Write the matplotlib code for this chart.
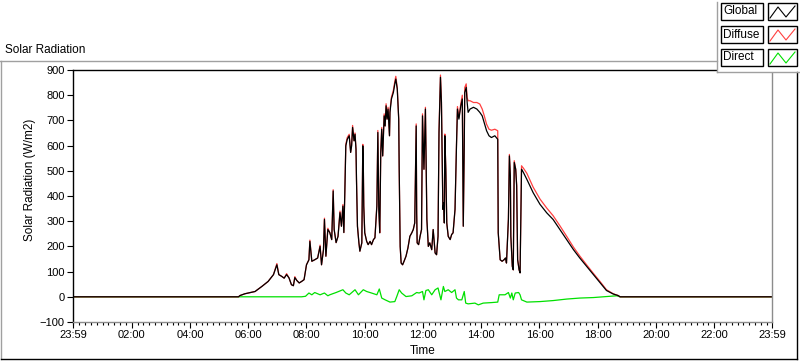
import matplotlib
matplotlib.use("Agg")
import matplotlib.pyplot as plt
from matplotlib.lines import Line2D
from matplotlib.patches import Rectangle
from matplotlib.ticker import FixedLocator, MultipleLocator

plt.rcParams['font.family'] = ['Liberation Sans', 'DejaVu Sans']

# minutes after midnight
global_t = [0, 340, 343, 353, 374, 388, 401, 412, 419, 423, 429, 434, 439, 444, 449, 453,
            456, 460, 465, 470, 475, 480, 485, 487, 491, 497, 503, 508, 511, 515, 517, 520,
            524, 528, 532, 535, 537, 541, 545, 549, 552, 555, 557, 559, 561, 564, 568, 571,
            573, 575, 578, 580, 582, 583, 585, 588, 590, 594, 596, 597, 598, 600, 604, 607,
            611, 614, 618, 621, 625, 627, 629, 631, 633, 635, 637, 640, 642, 644, 646, 648,
            651, 652, 655, 659, 662, 664, 667, 670, 671, 673, 675, 678, 681, 685, 689, 693,
            697, 700, 703, 706, 707, 708, 711, 714, 717, 719, 722, 725, 728, 731, 734, 738,
            741, 745, 748, 751, 753, 755, 756, 758, 761, 763, 764, 765, 767, 769, 772, 776,
            779, 782, 786, 789, 791, 794, 796, 798, 801, 803, 805, 806, 809, 811, 813, 817,
            824, 831, 837, 842, 846, 851, 856, 861, 868, 874, 875, 879, 883, 887, 890, 892,
            896, 898, 900, 901, 904, 906, 908, 911, 913, 915, 918, 920, 922, 923, 925, 927,
            934, 947, 961, 975, 988, 1002, 1016, 1030, 1043, 1057, 1071, 1085, 1098, 1112,
            1122, 1126, 1439]
global_v = [0, 0, 5, 12, 21, 41, 61, 88, 127, 88, 81, 74, 88, 75, 48, 44,
            76, 65, 55, 61, 68, 127, 147, 220, 141, 147, 154, 200, 127, 187, 307, 161,
            267, 255, 227, 420, 267, 215, 240, 334, 280, 360, 255, 414, 599, 625, 639, 573,
            599, 672, 619, 645, 586, 466, 280, 214, 181, 214, 599, 533, 360, 254, 220, 207,
            220, 207, 227, 234, 360, 652, 347, 254, 572, 665, 559, 718, 678, 758, 705, 745,
            639, 732, 785, 811, 845, 864, 825, 705, 506, 200, 134, 127, 141, 161, 194, 240,
            254, 267, 293, 678, 333, 214, 207, 240, 267, 718, 506, 745, 307, 200, 214, 187,
            267, 174, 167, 240, 652, 798, 871, 771, 347, 373, 293, 639, 506, 293, 240, 227,
            247, 254, 347, 599, 745, 705, 732, 758, 785, 280, 599, 811, 831, 771, 732, 745,
            752, 745, 732, 718, 692, 659, 639, 632, 639, 625, 254, 147, 141, 147, 154, 134,
            307, 559, 480, 240, 121, 107, 533, 506, 439, 147, 107, 95, 386, 506, 500, 493,
            466, 413, 367, 333, 307, 267, 227, 187, 154, 121, 88, 55, 25, 11,
            5, 0, 0]
diffuse_v = [0, 0, 5, 12, 21, 41, 61, 88, 132, 88, 81, 74, 92, 75, 48, 44,
             80, 65, 55, 61, 68, 127, 147, 225, 141, 147, 154, 205, 127, 187, 312, 161,
             272, 255, 227, 425, 267, 215, 240, 340, 280, 366, 255, 420, 605, 632, 645, 573,
             605, 680, 619, 650, 586, 466, 280, 214, 181, 214, 605, 533, 360, 254, 220, 207,
             220, 207, 227, 234, 366, 660, 347, 254, 578, 672, 559, 726, 678, 766, 705, 752,
             639, 740, 792, 820, 855, 875, 830, 705, 506, 200, 134, 127, 141, 161, 194, 240,
             254, 267, 293, 686, 333, 214, 207, 240, 267, 726, 506, 752, 307, 200, 214, 187,
             267, 174, 167, 240, 660, 808, 880, 778, 347, 373, 293, 646, 506, 293, 240, 227,
             247, 254, 347, 605, 755, 712, 740, 768, 800, 280, 605, 830, 845, 790, 778, 778,
             771, 771, 765, 745, 720, 685, 665, 661, 665, 659, 254, 147, 141, 147, 154, 134,
             312, 565, 485, 240, 121, 107, 540, 506, 445, 147, 107, 95, 390, 520, 515, 510,
             490, 435, 388, 352, 322, 282, 240, 197, 162, 127, 93, 60, 28, 12,
             5, 0, 0]

direct_t = [0, 343, 470, 478, 485, 491, 497, 508, 517, 524, 528, 541, 555, 561, 568, 580,
            587, 597, 604, 614, 625, 630, 635, 642, 652, 662, 666, 671, 676, 685, 697, 707,
            712, 719, 722, 726, 731, 738, 745, 751, 757, 762, 765, 772, 779, 786, 789, 793,
            800, 805, 808, 813, 827, 834, 844, 861, 874, 877, 889, 896, 900, 903, 906, 910,
            917, 920, 923, 934, 961, 988, 1016, 1043, 1071, 1098, 1119, 1126, 1439]
direct_v = [0, 0, 0, 2, 15, 8, 17, 8, 15, 4, 8, 17, 28, 15, 8, 28,
            8, 28, 21, 15, 8, 31, -5, -12, -21, -19, 1, 28, 15, 1, 4, 17,
            15, 21, -12, 25, 28, 8, 28, 35, -12, 41, 21, 28, 17, 28, -5, -12,
            -12, 21, -25, -28, -25, -32, -25, -23, -21, 8, 8, 17, -5, 15, -12, 15,
            17, 8, -12, -21, -19, -15, -9, -5, -3, 1, 4, 0, 0]

tick_pos = [-1, 120, 240, 360, 480, 600, 720, 840, 960, 1080, 1200, 1320, 1439]
tick_lab = ["23:59", "02:00", "04:00", "06:00", "08:00", "10:00", "12:00",
            "14:00", "16:00", "18:00", "20:00", "22:00", "23:59"]

W, H = 800, 361
fig = plt.figure(figsize=(W / 100, H / 100), dpi=100)
fig.patch.set_facecolor("white")


def fx(x):
    return x / W


def fy(y):
    return 1 - y / H


def hline(x0, x1, y, c):
    fig.add_artist(Line2D([fx(x0), fx(x1)], [fy(y), fy(y)], color=c, lw=1.0,
                          transform=fig.transFigure))


def vline(x, y0, y1, c):
    fig.add_artist(Line2D([fx(x), fx(x)], [fy(y0), fy(y1)], color=c, lw=1.0,
                          transform=fig.transFigure))


ax = fig.add_axes([fx(73), fy(322), fx(772) - fx(73), fy(70) - fy(322)])
ax.plot(direct_t, direct_v, color="#00e000", lw=0.9)
ax.plot(global_t, diffuse_v, color="#ff4040", lw=0.9)
ax.plot(global_t, global_v, color="black", lw=0.9)

ax.set_xlim(-1, 1439)
ax.set_ylim(-100, 900)
ax.set_yticks(range(-100, 901, 100))
ax.xaxis.set_major_locator(FixedLocator(tick_pos))
ax.set_xticklabels(tick_lab)
ax.xaxis.set_minor_locator(MultipleLocator(12))
ax.tick_params(axis="both", which="major", labelsize=8, length=4, width=0.8,
               color="black", pad=2)
ax.tick_params(axis="x", which="minor", length=2.5, width=0.8, color="black")
for s in ["left", "top"]:
    ax.spines[s].set_color("black")
for s in ["right", "bottom"]:
    ax.spines[s].set_color("#8c8c8c")
for s in ax.spines.values():
    s.set_linewidth(1.0)
ax.set_ylabel("Solar Radiation (W/m2)", fontsize=8.5)
ax.yaxis.set_label_coords(-0.0536, 0.563)
ax.set_xlabel("Time", fontsize=8.5, labelpad=3)

# outer frame
hline(0, 717, 61, "#a0a0a0")
vline(1, 61, 359, "#a0a0a0")
hline(1, 797, 359, "black")
vline(797, 72, 359, "black")
fig.text(fx(5), fy(50), "Solar Radiation", fontsize=8.5, va="center", ha="left")

# legend panel
fig.add_artist(Rectangle((fx(717), fy(72)), fx(83), fy(0) - fy(72), facecolor="white",
                         edgecolor="none", transform=fig.transFigure))
vline(717, 2, 72, "#a0a0a0")
hline(717, 800, 72, "#a0a0a0")
names = ["Global", "Diffuse", "Direct"]
cols = ["black", "#ff4040", "#00e000"]
tops = [3, 26, 49]
for name, c, t in zip(names, cols, tops):
    fig.add_artist(Rectangle((fx(721), fy(t + 17)), fx(42), fy(t) - fy(t + 17),
                             facecolor="white", edgecolor="black", lw=1.0,
                             transform=fig.transFigure))
    fig.add_artist(Rectangle((fx(768), fy(t + 17)), fx(29), fy(t) - fy(t + 17),
                             facecolor="white", edgecolor="black", lw=1.0,
                             transform=fig.transFigure))
    fig.text(fx(723), fy(t + 8.5), name, fontsize=8.5, va="center", ha="left")
    zx = [770, 778, 786, 795]
    zy = [t + 15, t + 4, t + 14, t + 3]
    fig.add_artist(Line2D([fx(v) for v in zx], [fy(v) for v in zy], color=c, lw=0.8,
                          transform=fig.transFigure))

fig.savefig("out.png", dpi=100)
